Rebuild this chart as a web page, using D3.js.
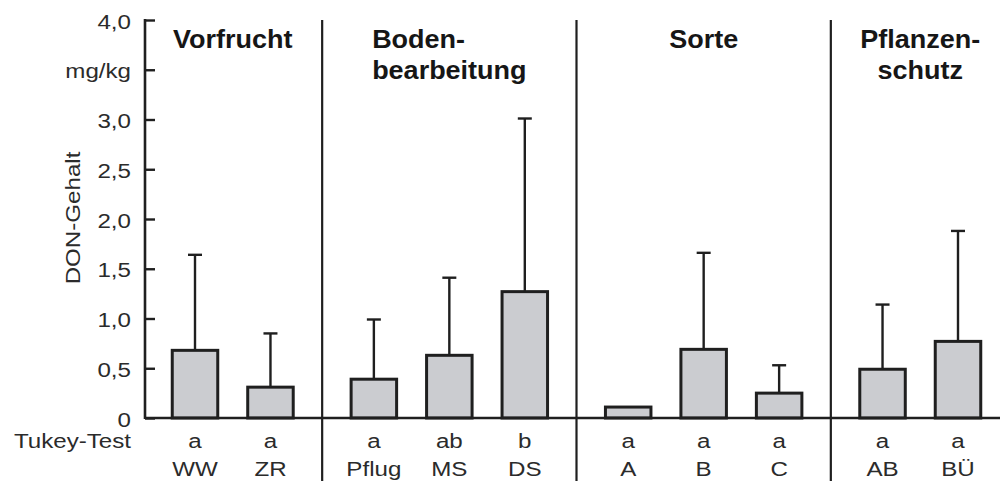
<!DOCTYPE html>
<html>
<head>
<meta charset="utf-8">
<script src="https://cdn.jsdelivr.net/npm/d3@7"></script>
<style>
  html, body { margin: 0; padding: 0; background: #fff; }
  svg { display: block; }
</style>
</head>
<body>
<svg id="chart" width="1000" height="481"></svg>
<script>
// DON content (mg/kg) by treatment factor, with Tukey test letters
const categories = ["WW", "ZR", "Pflug", "MS", "DS", "A", "B", "C", "AB", "BÜ"];
const groupOf    = [0, 0, 1, 1, 1, 2, 2, 2, 3, 3];
const means      = [0.68, 0.31, 0.39, 0.63, 1.27, 0.11, 0.69, 0.25, 0.49, 0.77];
const upper      = [1.64, 0.85, 0.99, 1.41, 3.01, null, 1.66, 0.53, 1.14, 1.88];
const tukey      = ["a", "a", "a", "ab", "b", "a", "a", "a", "a", "a"];
const groupTitles = [["Vorfrucht"], ["Boden-", "bearbeitung"], ["Sorte"], ["Pflanzen-", "schutz"]];
const yTicks     = [0, 0.5, 1.0, 1.5, 2.0, 2.5, 3.0, 3.5, 4.0];
const yTickLabels = ["0", "0,5", "1,0", "1,5", "2,0", "2,5", "3,0", "mg/kg", "4,0"];
const yTitle = "DON-Gehalt";
const rowTitle = "Tukey-Test";

// layout
const axisX = 145, plotRight = 1000;
const yTop = 20, yZero = 418;
const groupGap = 0.37;          // extra slot spacing between factor groups
const barW = 45.5;
const capW = 14;
const ink = "#1f1f1f", textInk = "#2b2b2b";
const fontReg = "'Liberation Sans', Arial, sans-serif";
const stretchReg = 1.15, stretchBold = 1.08;
const sizeReg = 21, sizeBold = 25;
const titleAlign = ["middle", "block", "middle", "middle"];

const svg = d3.select("#chart");

const y = d3.scaleLinear().domain([0, 4]).range([yZero, yTop]);
const slot = categories.map((c, i) => i + groupOf[i] * groupGap);
const x = d3.scaleLinear()
  .domain([0, d3.max(slot)])
  .range([195, 958]);
const cx = i => x(slot[i]);

// horizontally widened text helper
function label(parent, str, px, py, opts = {}) {
  const sx = opts.bold ? stretchBold : stretchReg;
  const rot = opts.rotate ? ` rotate(${opts.rotate})` : "";
  const g = parent.append("g").attr("transform", `translate(${px},${py})${rot} scale(${sx},1)`);
  return g.append("text")
    .attr("text-anchor", opts.anchor || "middle")
    .attr("font-family", fontReg)
    .attr("font-size", opts.bold ? sizeBold : sizeReg)
    .attr("font-weight", opts.bold ? "bold" : "normal")
    .attr("fill", opts.bold ? "#161616" : textInk)
    .text(str);
}

// group separators
const nGroups = groupTitles.length;
const sepX = d3.range(1, nGroups).map(g => {
  const lastPrev = groupOf.lastIndexOf(g - 1);
  const firstNext = groupOf.indexOf(g);
  return (cx(lastPrev) + cx(firstNext)) / 2;
});
svg.append("g").selectAll("line").data(sepX).join("line")
  .attr("x1", d => d).attr("x2", d => d)
  .attr("y1", y(4)).attr("y2", 481)
  .attr("stroke", ink).attr("stroke-width", 2.2);

// bars
svg.append("g").selectAll("rect").data(categories).join("rect")
  .attr("x", (d, i) => cx(i) - barW / 2)
  .attr("y", (d, i) => y(means[i]))
  .attr("width", barW)
  .attr("height", (d, i) => y(0) - y(means[i]))
  .attr("fill", "#cbccd0")
  .attr("stroke", ink)
  .attr("stroke-width", 3);

// error bars (upper whisker only)
const errIdx = d3.range(categories.length).filter(i => upper[i] != null);
const eg = svg.append("g").attr("stroke", ink).attr("stroke-width", 2.4);
eg.selectAll("line.v").data(errIdx).join("line").attr("class", "v")
  .attr("x1", i => cx(i)).attr("x2", i => cx(i))
  .attr("y1", i => y(means[i])).attr("y2", i => y(upper[i]));
eg.selectAll("line.c").data(errIdx).join("line").attr("class", "c")
  .attr("x1", i => cx(i) - capW / 2).attr("x2", i => cx(i) + capW / 2)
  .attr("y1", i => y(upper[i])).attr("y2", i => y(upper[i]));

// y axis
const yAxis = d3.axisRight(y).tickValues(yTicks).tickSize(10).tickFormat("");
const ag = svg.append("g").attr("transform", `translate(${axisX},0)`).call(yAxis);
ag.select(".domain").remove();
ag.selectAll(".tick line").attr("stroke", ink).attr("stroke-width", 2.4);
svg.append("line")
  .attr("x1", axisX).attr("x2", axisX)
  .attr("y1", y(4) - 1).attr("y2", y(0) + 1)
  .attr("stroke", ink).attr("stroke-width", 2.6);

// baseline
svg.append("line")
  .attr("x1", axisX).attr("x2", plotRight)
  .attr("y1", y(0)).attr("y2", y(0))
  .attr("stroke", ink).attr("stroke-width", 2.6);

// tick labels
const tl = svg.append("g");
yTicks.forEach((t, k) => label(tl, yTickLabels[k], 131, y(t) + 8.5, { anchor: "end" }));

// y title
label(svg, yTitle, 80, 218, { rotate: -90 });

// Tukey letters and category names
const bl = svg.append("g");
label(bl, rowTitle, 131, 448, { anchor: "end" });
categories.forEach((c, i) => {
  label(bl, tukey[i], cx(i), 448);
  label(bl, c, cx(i), 476);
});

// group titles
const tg = svg.append("g");
groupTitles.forEach((lines, g) => {
  const idx = d3.range(categories.length).filter(i => groupOf[i] === g);
  const center = (cx(idx[0]) + cx(idx[idx.length - 1])) / 2;
  const texts = lines.map((ln, k) => label(tg, ln, center, 48 + k * 31, { bold: true }));
  if (titleAlign[g] === "block") {
    const widest = d3.max(texts, t => t.node().getComputedTextLength());
    texts.forEach(t => t.attr("text-anchor", "start").attr("x", -widest / 2));
  }
});
</script>
</body>
</html>
